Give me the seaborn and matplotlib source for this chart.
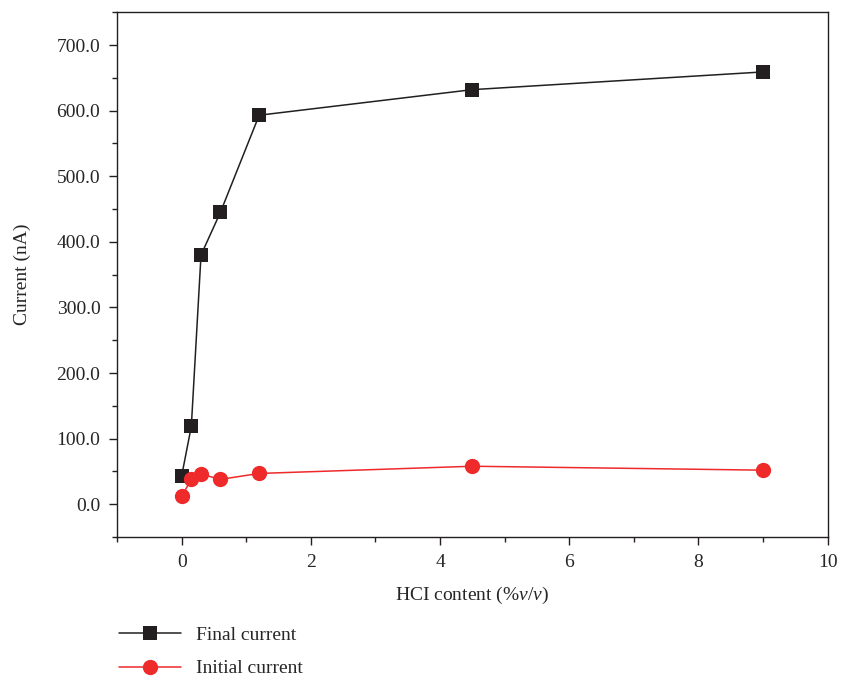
import matplotlib
matplotlib.use("Agg")
import matplotlib.pyplot as plt
from matplotlib.ticker import MultipleLocator, FormatStrFormatter
import seaborn as sns

sns.set_theme(style="ticks")
plt.rcParams['font.family'] = ['Liberation Serif', 'DejaVu Serif']
plt.rcParams['mathtext.fontset'] = 'custom'
plt.rcParams['mathtext.it'] = 'Liberation Serif:italic'
plt.rcParams['mathtext.rm'] = 'Liberation Serif'

hcl = [0, 0.15, 0.3, 0.6, 1.2, 4.5, 9]
final_current = [43, 119, 380, 445, 593, 632, 659]
initial_current = [12, 38, 46, 38, 47, 58, 52]

fig = plt.figure(figsize=(8.42, 6.79), dpi=100)
ax = fig.add_axes([0.139, 0.209, 0.844, 0.773])

sns.lineplot(x=hcl, y=final_current, ax=ax, color="#231f20", marker="s",
             markersize=9.5, markeredgewidth=0, linewidth=1.1, label="Final current")
sns.lineplot(x=hcl, y=initial_current, ax=ax, color="#ee2a2b", marker="o",
             markersize=11, markeredgewidth=0, linewidth=1.1, label="Initial current")

ax.set_xlim(-1, 10)
ax.set_ylim(-50, 750)
ax.xaxis.set_major_locator(MultipleLocator(2))
ax.xaxis.set_minor_locator(MultipleLocator(1))
ax.yaxis.set_major_locator(MultipleLocator(100))
ax.yaxis.set_minor_locator(MultipleLocator(50))
ax.yaxis.set_major_formatter(FormatStrFormatter("%.1f"))
ax.tick_params(which="major", direction="out", length=6, width=1, labelsize=14,
               color="#231f20", pad=6)
ax.tick_params(which="minor", direction="out", length=3.5, width=1, color="#231f20")
for s in ax.spines.values():
    s.set_color("#231f20")
    s.set_linewidth(1)

ax.set_xlabel("HCI content (%$\\it{v}$/$\\it{v}$)", fontsize=14, labelpad=10)
ax.set_ylabel("Current (nA)", fontsize=14, labelpad=18)

ax.legend(loc="upper left", bbox_to_anchor=(0.12, 0.103), bbox_transform=fig.transFigure,
          frameon=False, fontsize=14, handlelength=3.2, labelspacing=0.8)

fig.savefig("out.png", dpi=100)
